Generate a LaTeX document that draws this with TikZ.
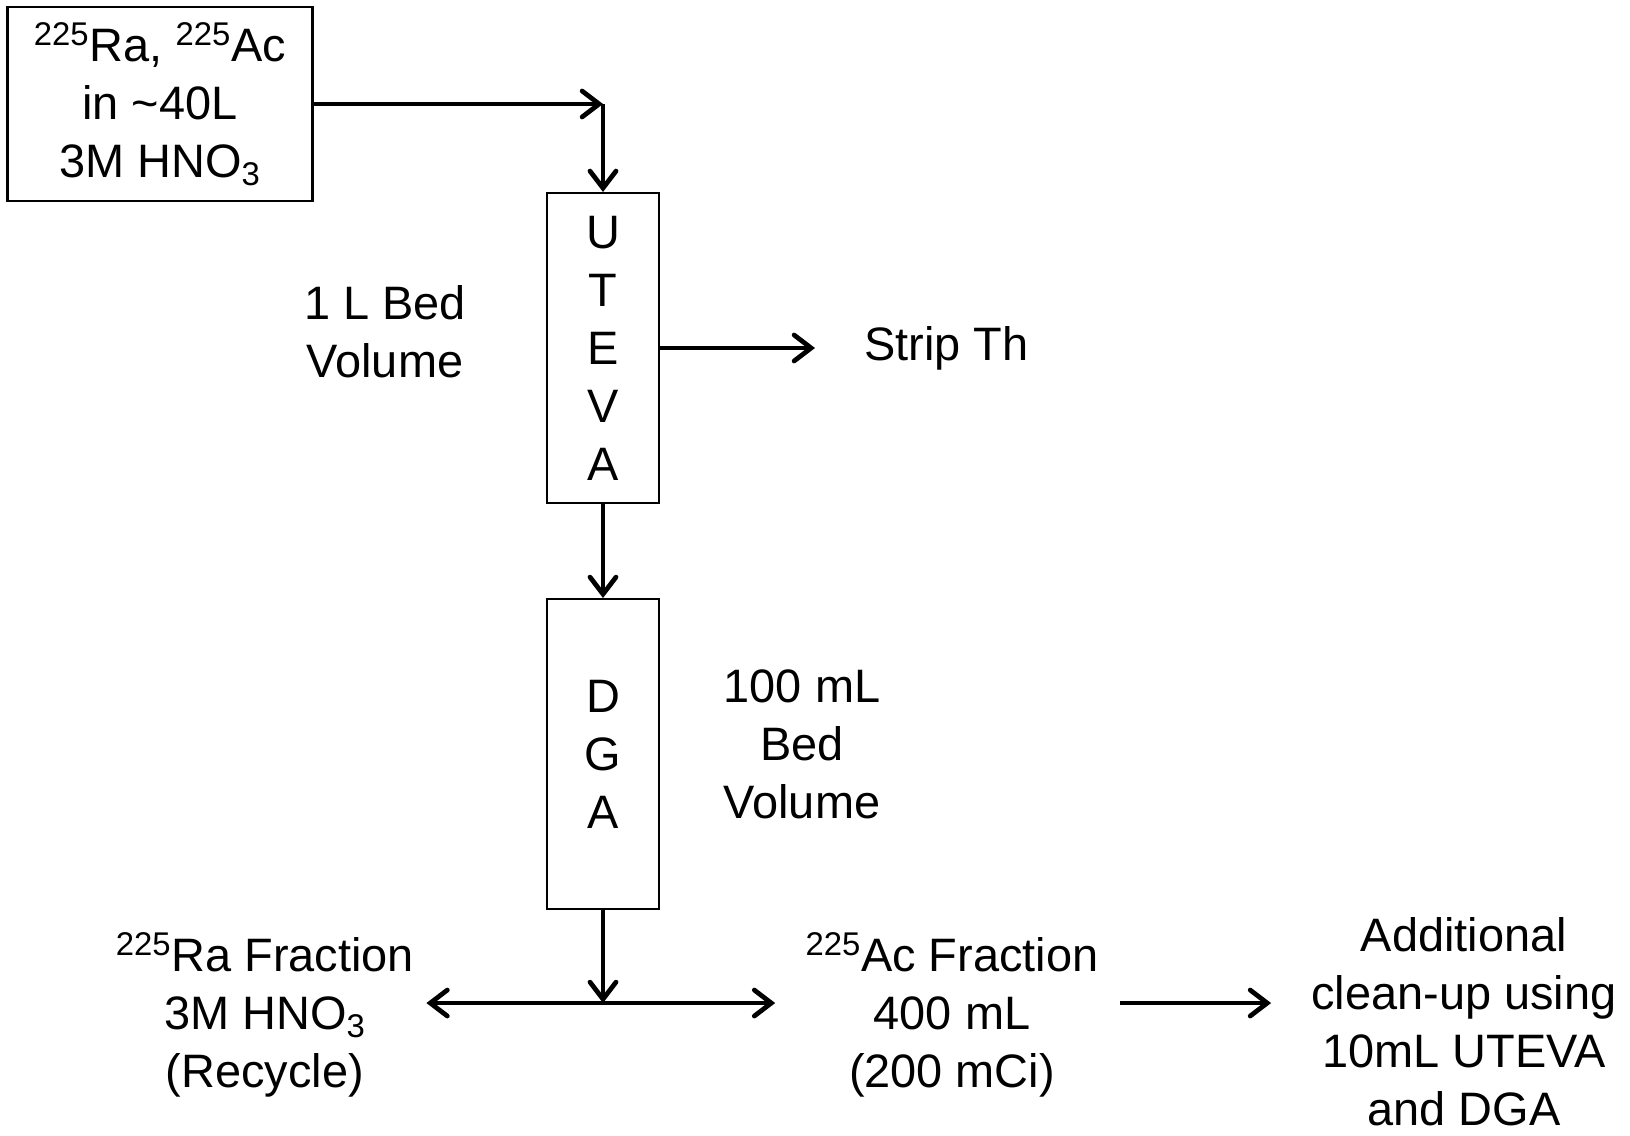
\documentclass[tikz,border=0pt]{standalone}
\usepackage{fontspec}
\setmainfont{Liberation Sans}
\usetikzlibrary{arrows.meta,positioning,calc}
\tikzset{
  srcbox/.style={draw,line width=1.2pt,minimum width=6.1cm,minimum height=3.88cm,
    align=center,inner sep=0pt},
  colbox/.style={draw,line width=1.2pt,minimum width=2.24cm,minimum height=6.2cm,
    align=center,inner sep=0pt},
  lbl/.style={align=center,inner sep=0pt},
  arrow/.style={-{Straight Barb[length=3.4mm,width=5.2mm,line cap=round]},line width=2.7pt},
  twoway/.style={{Straight Barb[length=3.4mm,width=5.2mm,line cap=round]}-{Straight Barb[length=3.4mm,width=5.2mm,line cap=round]},line width=2.7pt}
}

\begin{document}
\begin{tikzpicture}[x=0.02cm,y=-0.02cm,font=\fontsize{26.7}{33}\selectfont]
    \useasboundingbox (0,0) rectangle (1630,1136);
    \node[srcbox] (feed) at (160,104) {\textsuperscript{225}Ra, \textsuperscript{225}Ac\\in \textasciitilde40L\\3M HNO\textsubscript{3}};
    \node[colbox] (uteva) at (603,348) {U\\T\\E\\V\\A};
    \node[colbox,below=1.88cm of uteva] (dga) {D\\G\\A};
    \coordinate (turn) at (feed.east -| uteva.north);
    \draw[arrow] (feed.east)--(turn); \draw[arrow] (turn)--(uteva.north);
    \draw[arrow] (uteva.south)--(dga.north);

    \node[lbl] (bed1) at (385,332) {1 L Bed\\Volume};
    \node[lbl,right=4.08cm of uteva] (strip) {Strip Th};
    \draw[arrow,shorten >=0.98cm] (uteva.east)--(strip.west);
    \node[lbl] (bed2) at (802,744) {100 mL\\Bed\\Volume};

    % fractions off the DGA column
    \coordinate[below=1.86cm of dga.south] (split);
    \draw[arrow] (dga.south)--(split);
    \node[lbl] (ra) at (265,1015) {\textsuperscript{225}Ra Fraction\\3M HNO\textsubscript{3}\\(Recycle)};
    \node[lbl] (ac) at (952,1015) {\textsuperscript{225}Ac Fraction\\400 mL\\(200 mCi)};
    \node[lbl] (more) at (1464,1022) {Additional\\clean-up using\\10mL UTEVA\\and DGA};
    \draw[twoway,shorten <=0.24cm,shorten >=0.6cm] (ra.east |- split)--(ac.west |- split);
    \draw[arrow,shorten <=0.42cm,shorten >=0.8cm] (ac.east |- split)--(more.west |- split);
  \end{tikzpicture}
\end{document}
